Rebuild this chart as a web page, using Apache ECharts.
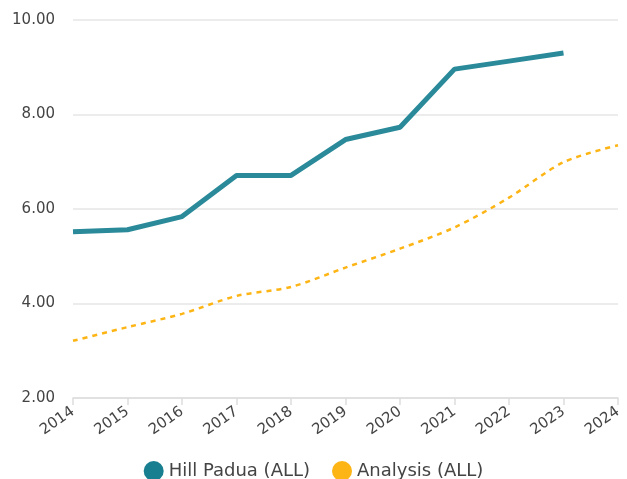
<!DOCTYPE html>
<html>
<head>
<meta charset="utf-8">
<script src="https://cdn.jsdelivr.net/npm/echarts@6/dist/echarts.min.js"></script>
<style>
  html, body { margin: 0; padding: 0; background: #fff; }
  #chart { width: 627px; height: 479px; }
</style>
</head>
<body>
<div id="chart"></div>
<script>
const years = ['2014', '2015', '2016', '2017', '2018', '2019', '2020', '2021', '2022', '2023', '2024']
const hillPadua = [5.52, 5.56, 5.84, 6.71, 6.71, 7.47, 7.73, 8.96, 9.13, 9.30, null]
const analysis = [3.21, 3.50, 3.78, 4.16, 4.35, 4.76, 5.16, 5.61, 6.24, 6.99, 7.35]

const chart = echarts.init(document.getElementById('chart'))

chart.setOption({
  animation: false,
  textStyle: { fontFamily: 'DejaVu Sans, Liberation Sans, sans-serif' },
  grid: { left: 73, right: 9, top: 20, bottom: 81 },
  legend: {
    bottom: -7,
    left: 'center',
    icon: 'circle',
    itemWidth: 20,
    itemHeight: 20,
    itemGap: 22,
    textStyle: { color: '#444', fontSize: 18 },
    data: ['Hill Padua (ALL)', 'Analysis (ALL)'],
  },
  xAxis: {
    type: 'category',
    data: years,
    boundaryGap: false,
    axisLine: { lineStyle: { color: '#dddddd', width: 1.5 } },
    axisTick: { show: true, length: 7, lineStyle: { color: '#dddddd', width: 1.5 } },
    axisLabel: { rotate: 35, color: '#444', fontSize: 15, margin: 12 },
    splitLine: { show: false },
  },
  yAxis: {
    type: 'value',
    min: 2,
    max: 10,
    interval: 2,
    axisLine: { show: false },
    axisTick: { show: false },
    axisLabel: {
      color: '#444',
      fontSize: 15,
      margin: 18,
      formatter: v => v.toFixed(2),
    },
    splitLine: { lineStyle: { color: '#e6e6e6', width: 1.5 } },
  },
  series: [
    {
      name: 'Hill Padua (ALL)',
      type: 'line',
      data: hillPadua,
      symbol: 'none',
      itemStyle: { color: '#177f8f' },
      lineStyle: { color: '#2a8a9a', width: 5 },
    },
    {
      name: 'Analysis (ALL)',
      type: 'line',
      data: analysis,
      symbol: 'none',
      smooth: 0.3,
      itemStyle: { color: '#fdb515' },
      lineStyle: { color: '#fdb515', width: 2.5, type: [5, 5] },
    },
  ],
})
</script>
</body>
</html>
